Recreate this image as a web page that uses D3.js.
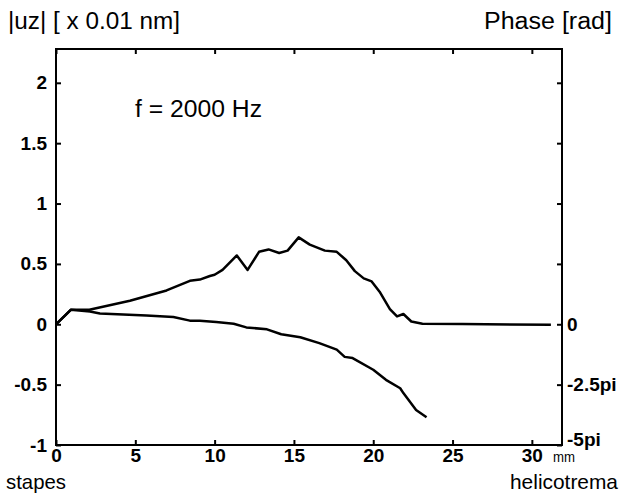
<!DOCTYPE html>
<html>
<head>
<meta charset="utf-8">
<script src="https://cdn.jsdelivr.net/npm/d3@7"></script>
<style>
  html, body { margin: 0; padding: 0; background: #fff; }
  svg { display: block; }
  text { font-family: "Liberation Sans", Arial, sans-serif; fill: #000; }
</style>
</head>
<body>
<svg id="chart" width="624" height="496"></svg>
<script>
// Position along cochlea (mm) and amplitude |uz| (x 0.01 nm)
const ampX = [0, 0.93, 2.1, 4.66, 6.97, 8.44, 9.07, 9.7, 10.0, 10.5, 11.4, 12.08, 12.8, 13.4, 14.07, 14.6, 15.3, 16.0, 16.95, 17.7, 18.3, 18.84, 19.4, 19.9, 20.4, 21.05, 21.5, 21.9, 22.4, 23.1, 25.6, 31.2];
const ampY = [0, 0.12, 0.12, 0.195, 0.28, 0.36, 0.37, 0.40, 0.41, 0.45, 0.57, 0.45, 0.60, 0.62, 0.59, 0.61, 0.72, 0.66, 0.61, 0.60, 0.53, 0.44, 0.38, 0.355, 0.27, 0.126, 0.065, 0.085, 0.023, 0.005, 0.003, -0.005];
// Phase (in units of pi)
const phX = [0, 0.93, 2.14, 2.77, 5.7, 7.4, 8.44, 9.07, 10.1, 11.2, 12.0, 13.3, 14.2, 15.4, 16.6, 17.7, 18.2, 18.7, 20.0, 20.8, 21.7, 21.9, 22.7, 23.36];
const phPi = [0, 0.6, 0.53, 0.45, 0.365, 0.3, 0.15, 0.145, 0.09, 0.02, -0.13, -0.21, -0.415, -0.535, -0.78, -1.05, -1.35, -1.4, -1.885, -2.3, -2.65, -2.85, -3.55, -3.85];

const xTicks = [0, 5, 10, 15, 20, 25, 30];
const yTicks = [-1, -0.5, 0, 0.5, 1, 1.5, 2];
const yTickLabels = ["-1", "-0.5", "0", "0.5", "1", "1.5", "2"];
const phTicks = [0, -2.5, -5];
const phTickLabels = ["0", "-2.5pi", "-5pi"];

const svg = d3.select("#chart");
const L = 56, R = 562, T = 49, B = 445;
const x = d3.scaleLinear().domain([0, 31.9]).range([L, R]);
const y = d3.scaleLinear().domain([-1, 2.28]).range([B, T]);
const yP = d3.scaleLinear().domain([-5, 2.28 * 5]).range([B, T]);

// Box
svg.append("rect").attr("x", L).attr("y", T).attr("width", R - L).attr("height", B - T)
  .attr("fill", "none").attr("stroke", "#000").attr("stroke-width", 2);

const boldTick = g => g.selectAll("text").attr("font-weight", "bold").attr("font-size", 19)
  .style("font-family", "'Liberation Sans', Arial, sans-serif");

const gLeft = svg.append("g").attr("transform", `translate(${L},0)`)
  .call(d3.axisLeft(y).tickValues(yTicks).tickFormat((d, i) => yTickLabels[i]).tickSizeInner(-5).tickSizeOuter(0).tickPadding(9));
gLeft.select(".domain").remove();
gLeft.selectAll("line").attr("stroke-width", 2);
boldTick(gLeft);

const gRight = svg.append("g").attr("transform", `translate(${R},0)`)
  .call(d3.axisRight(y).tickValues(yTicks).tickFormat("").tickSizeInner(-5).tickSizeOuter(0));
gRight.select(".domain").remove();
gRight.selectAll("line").attr("stroke-width", 2);

const gRightP = svg.append("g").attr("transform", `translate(${R},0)`)
  .call(d3.axisRight(yP).tickValues(phTicks).tickFormat((d, i) => phTickLabels[i]).tickSize(0).tickPadding(5));
gRightP.select(".domain").remove();
boldTick(gRightP);
gRightP.selectAll(".tick").filter(d => d === -5).select("text").attr("dy", "0.05em");

const gBottom = svg.append("g").attr("transform", `translate(0,${B})`)
  .call(d3.axisBottom(x).tickValues(xTicks).tickSizeInner(-5).tickSizeOuter(0).tickPadding(4));
gBottom.select(".domain").remove();
gBottom.selectAll("line").attr("stroke-width", 2);
boldTick(gBottom);

const gTop = svg.append("g").attr("transform", `translate(0,${T})`)
  .call(d3.axisTop(x).tickValues(xTicks).tickFormat("").tickSizeInner(-5).tickSizeOuter(0));
gTop.select(".domain").remove();
gTop.selectAll("line").attr("stroke-width", 2);

// Curves
const ampData = ampX.map((d, i) => [d, ampY[i]]);
const phData = phX.map((d, i) => [d, phPi[i]]);
svg.append("path").datum(ampData)
  .attr("d", d3.line().x(d => x(d[0])).y(d => y(d[1])))
  .attr("fill", "none").attr("stroke", "#000").attr("stroke-width", 2.5).attr("stroke-linejoin", "round");
svg.append("path").datum(phData)
  .attr("d", d3.line().x(d => x(d[0])).y(d => yP(d[1])))
  .attr("fill", "none").attr("stroke", "#000").attr("stroke-width", 2.5).attr("stroke-linejoin", "round");

// Texts
const addText = (tx, ty, size, str, len, anchor) => {
  const t = svg.append("text").attr("x", tx).attr("y", ty).attr("font-size", size).text(str);
  if (anchor) t.attr("text-anchor", anchor);
  if (len) t.attr("textLength", len).attr("lengthAdjust", "spacingAndGlyphs");
  return t;
};
addText(8, 29, 23, "|uz| [ x 0.01 nm]", 172);
addText(612, 29, 23, "Phase [rad]", 128, "end");
addText(135, 117, 23, "f = 2000 Hz", 127);
addText(6, 489, 21, "stapes", 60);
addText(618, 489, 21, "helicotrema", 108, "end");
addText(553, 462, 15, "mm", 22);
</script>
</body>
</html>
